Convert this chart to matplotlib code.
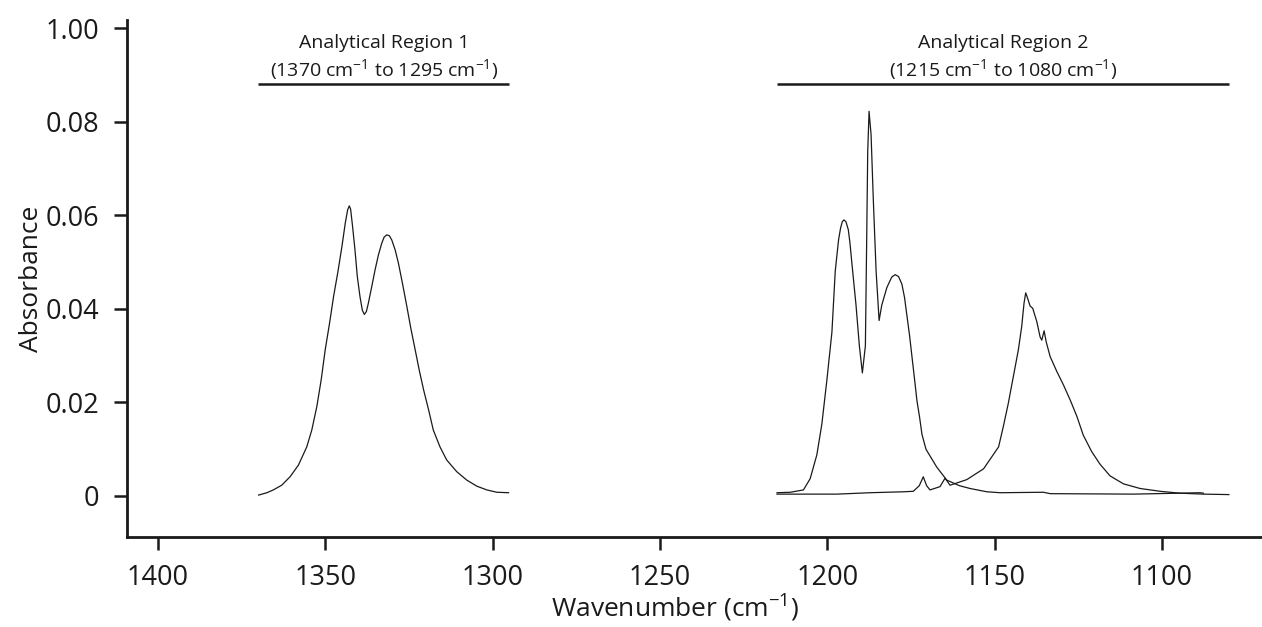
import matplotlib
matplotlib.use('Agg')
import matplotlib.pyplot as plt

# Analytical region 1 spectrum
r1_wn = [1369.9, 1367.4, 1365.5, 1363.0, 1360.5, 1358.0, 1355.5, 1354.0, 1352.5,
         1351.2, 1350.0, 1348.7, 1347.5, 1346.2, 1345.0, 1344.0, 1343.3, 1342.8,
         1342.4, 1341.8, 1341.1, 1340.4, 1339.6, 1338.9, 1338.3, 1337.7, 1337.1,
         1336.1, 1335.1, 1334.1, 1333.1, 1332.4, 1331.6, 1330.8, 1330.1, 1329.1,
         1328.1, 1326.9, 1325.6, 1324.4, 1323.1, 1321.9, 1320.6, 1319.1, 1317.7,
         1315.7, 1313.7, 1310.7, 1307.7, 1304.7, 1301.7, 1298.7, 1295.2]
r1_abs = [0.0002, 0.0007, 0.0013, 0.0023, 0.0041, 0.0066, 0.0105, 0.0141, 0.0191,
          0.0248, 0.0312, 0.0369, 0.0426, 0.0479, 0.0533, 0.0583, 0.0611, 0.0620,
          0.0613, 0.0575, 0.0526, 0.0469, 0.0426, 0.0397, 0.0388, 0.0394, 0.0412,
          0.0447, 0.0483, 0.0515, 0.0540, 0.0553, 0.0558, 0.0556, 0.0547, 0.0526,
          0.0497, 0.0454, 0.0405, 0.0358, 0.0312, 0.0269, 0.0227, 0.0184, 0.0141,
          0.0105, 0.0077, 0.0052, 0.0034, 0.0021, 0.0013, 0.0008, 0.0007]

# Analytical region 2, first spectrum
r2a_wn = [1215.0, 1211.0, 1207.1, 1205.1, 1203.1, 1201.6, 1200.1, 1198.6, 1197.6,
          1196.6, 1196.0, 1195.5, 1195.0, 1194.4, 1193.7, 1193.2, 1192.6, 1191.4,
          1190.4, 1189.5, 1188.6, 1188.2, 1187.9, 1187.5, 1186.9, 1186.2, 1185.4,
          1184.5, 1183.7, 1182.2, 1181.7, 1180.7, 1179.7, 1178.7, 1177.7, 1176.9,
          1176.2, 1175.4, 1174.7, 1173.9, 1173.2, 1172.4, 1171.7, 1170.5, 1167.3,
          1164.3, 1160.5, 1157.3, 1152.3, 1148.3, 1135.4, 1133.4, 1108.5, 1095.0,
          1088.6, 1087.6]
r2a_abs = [0.0007, 0.0008, 0.0013, 0.0037, 0.0088, 0.0154, 0.0248, 0.0350, 0.0481,
           0.0548, 0.0573, 0.0586, 0.0590, 0.0586, 0.0569, 0.0540, 0.0495, 0.0408,
           0.0321, 0.0263, 0.0321, 0.0554, 0.0736, 0.0822, 0.0772, 0.0627, 0.0481,
           0.0375, 0.0408, 0.0445, 0.0453, 0.0468, 0.0473, 0.0469, 0.0453, 0.0424,
           0.0386, 0.0343, 0.0299, 0.0249, 0.0204, 0.0168, 0.0132, 0.0100, 0.0062,
           0.0034, 0.0022, 0.0016, 0.0009, 0.0007, 0.0008, 0.0005, 0.0004, 0.0006,
           0.0007, 0.0006]

# Analytical region 2, second spectrum
r2b_wn = [1215.0, 1197.1, 1187.2, 1177.2, 1174.3, 1172.5, 1171.3, 1170.3, 1169.3,
          1166.3, 1164.8, 1163.3, 1158.3, 1153.3, 1150.8, 1148.8, 1147.4, 1145.9,
          1144.4, 1142.9, 1141.9, 1141.2, 1140.7, 1140.1, 1139.4, 1138.6, 1137.4,
          1136.4, 1135.9, 1135.2, 1134.6, 1133.4, 1131.4, 1129.4, 1127.4, 1125.4,
          1123.5, 1121.0, 1118.5, 1115.5, 1111.5, 1106.5, 1100.5, 1094.6, 1087.6,
          1080.0]
r2b_abs = [0.0004, 0.0004, 0.0007, 0.0009, 0.0010, 0.0022, 0.0041, 0.0022, 0.0013,
           0.0020, 0.0038, 0.0023, 0.0035, 0.0058, 0.0084, 0.0105, 0.0148, 0.0198,
           0.0255, 0.0312, 0.0362, 0.0412, 0.0434, 0.0422, 0.0406, 0.0401, 0.0373,
           0.0340, 0.0333, 0.0353, 0.0330, 0.0298, 0.0266, 0.0237, 0.0205, 0.0170,
           0.0130, 0.0095, 0.0068, 0.0043, 0.0026, 0.0016, 0.0010, 0.0006, 0.0004,
           0.0003]

regions = [(1370, 1295, 'Analytical Region 1'), (1215, 1080, 'Analytical Region 2')]
y_ticks = [0, 0.02, 0.04, 0.06, 0.08, 0.10]
y_labels = ['0', '0.02', '0.04', '0.06', '0.08', '1.00']
x_ticks = [1400, 1350, 1300, 1250, 1200, 1150, 1100]

plt.rcParams['font.family'] = ['Open Sans', 'DejaVu Sans']
plt.rcParams['mathtext.default'] = 'regular'

fig = plt.figure(figsize=(12.62, 6.27), dpi=100)
ax = fig.add_axes([0.1004, 0.144, 0.8996, 0.824])

line_kw = dict(color='#1a1a1a', lw=0.9)
ax.plot(r1_wn, r1_abs, **line_kw)
ax.plot(r2a_wn, r2a_abs, **line_kw)
ax.plot(r2b_wn, r2b_abs, **line_kw)

bar_y = 0.0881
for hi, lo, name in regions:
    ax.plot([hi, lo], [bar_y, bar_y], color='#1a1a1a', lw=1.8, solid_capstyle='butt')
    mid = (hi + lo) / 2
    ax.text(mid, 0.0968, name, ha='center', va='center', fontsize=14, color='#1a1a1a')
    ax.text(mid, 0.0912, f'({hi} cm$^{{-1}}$ to {lo} cm$^{{-1}}$)',
            ha='center', va='center', fontsize=14, color='#1a1a1a')

ax.set_xlim(1409.3, 1070.1)
ax.set_ylim(-0.0087, 0.1017)
ax.set_xticks(x_ticks)
ax.set_xticklabels([str(t) for t in x_ticks])
ax.set_yticks(y_ticks)
ax.set_yticklabels(y_labels)

for s in ['top', 'right']:
    ax.spines[s].set_visible(False)
for s in ['left', 'bottom']:
    ax.spines[s].set_linewidth(2.0)
    ax.spines[s].set_color('#1a1a1a')
ax.tick_params(direction='out', length=9.5, width=1.8, pad=10, labelsize=19.5,
               color='#1a1a1a', labelcolor='#1a1a1a')

ax.set_xlabel('Wavenumber (cm$^{-1}$)', fontsize=19, color='#1a1a1a')
ax.set_ylabel('Absorbance', fontsize=19, color='#1a1a1a')
ax.xaxis.set_label_coords(0.483, -0.108)
ax.yaxis.set_label_coords(-0.073, 0.5)

fig.savefig('out.png', dpi=100)
